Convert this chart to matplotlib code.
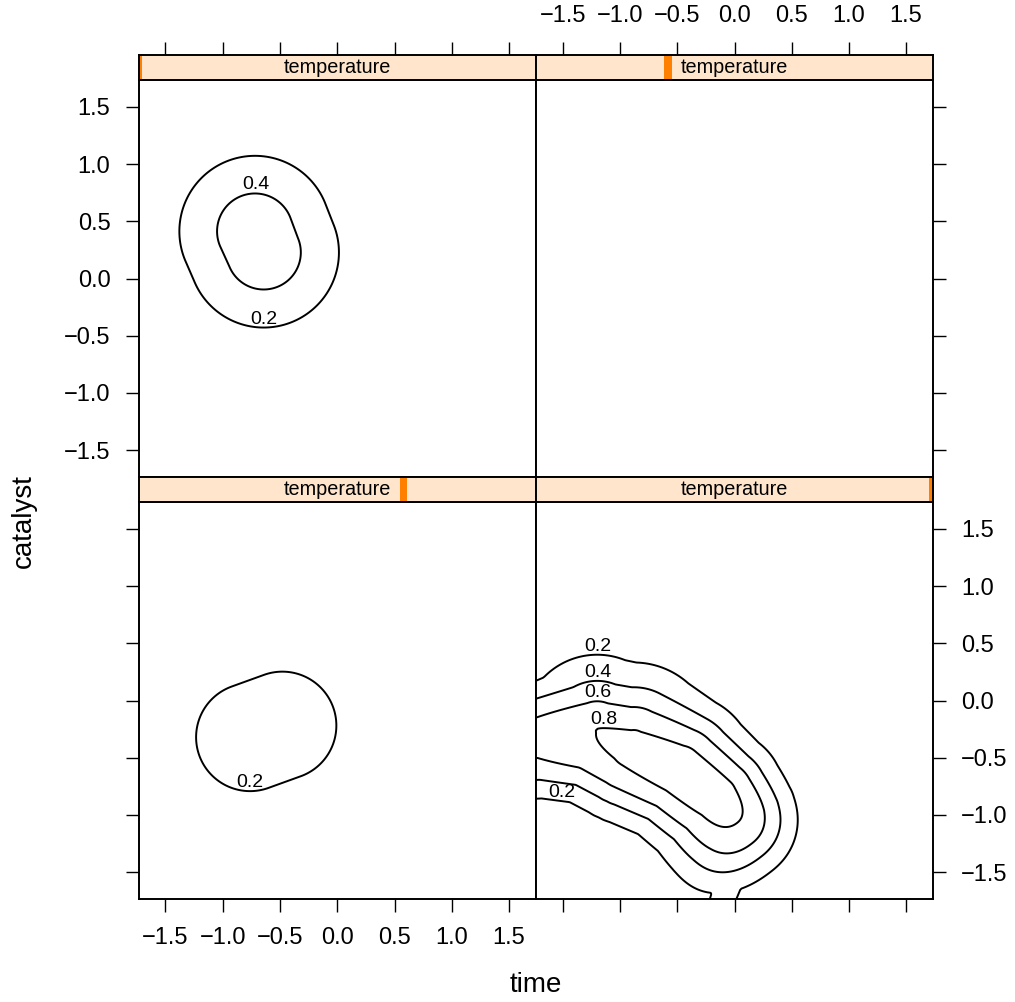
import numpy as np
import matplotlib
matplotlib.use("Agg")
import matplotlib.pyplot as plt
from matplotlib.patches import Rectangle

plt.rcParams['font.family'] = ['Liberation Sans', 'DejaVu Sans']

# axis ticks
ticks = [-1.5, -1.0, -0.5, 0.0, 0.5, 1.0, 1.5]
tick_labels = ["\u22121.5", "\u22121.0", "\u22120.5", "0.0", "0.5", "1.0", "1.5"]
lim = 1.735
levels = [0.2, 0.4, 0.6, 0.8]

# position of the temperature level in each strip (fraction of range)
temp_tl, temp_tr, temp_bl, temp_br = 0.0, 1 / 3, 2 / 3, 1.0

# fitted response per panel, described as ridges along a polyline:
# x, y of the crest, crest height, width above/below the crest
tl_x = [-0.718, -0.642]
tl_y = [0.412, 0.228]
tl_h = [0.505, 0.50]
tl_w = [0.686, 0.686]

tr_x = [-0.3, -0.1]
tr_y = [-0.2, -0.4]
tr_h = [0.12, 0.12]
tr_w = [0.6, 0.6]

bl_x = [-0.761, -0.479]
bl_y = [-0.321, -0.219]
bl_h = [0.30, 0.30]
bl_w = [0.74, 0.74]

br_x = [-2.0, -1.74, -1.2, -0.88, -0.48, -0.15, 0.05, 0.30, 0.55]
br_y = [-0.30, -0.30, -0.25, -0.38, -0.60, -0.85, -1.10, -1.45, -1.85]
br_h = [0.60, 0.66, 0.80, 0.85, 0.90, 0.90, 0.88, 0.86, 0.86]
br_wu = [0.42, 0.42, 0.53, 0.58, 0.55, 0.50, 0.48, 0.46, 0.46]
br_wl = [0.52, 0.52, 0.60, 0.62, 0.56, 0.58, 0.60, 0.62, 0.62]
br_pu = [2.2, 2.2, 1.6, 1.8, 2.2, 2.2, 2.2, 2.2, 2.2]
br_pl = [2.5, 2.5, 2.6, 2.6, 2.3, 2.2, 2.2, 2.2, 2.2]
# fall-off of the bottom-right ridge towards the lower right
br_cut_dir = (0.62, -0.79)
br_cut_at = 1.20
br_cut_scale = 0.15
# small shoulder running out of the bottom edge
spur_x = [0.02, -0.18]
spur_y = [-1.40, -1.95]
spur_h = [0.40, 0.30]
spur_w = [0.15, 0.15]


def lerp(a, i, t):
    return a[i] + t * (a[i + 1] - a[i])


def ridge(X, Y, px, py, h, wu, wl=None, pu=None, pl=None):
    n = len(px)
    wl = wu if wl is None else wl
    pu = [2.0] * n if pu is None else pu
    pl = [2.0] * n if pl is None else pl
    z = np.full(X.shape, -np.inf)
    for i in range(n - 1):
        dx = px[i + 1] - px[i]
        dy = py[i + 1] - py[i]
        t = np.clip(((X - px[i]) * dx + (Y - py[i]) * dy) / (dx * dx + dy * dy), 0, 1)
        ox = X - px[i] - t * dx
        oy = Y - py[i] - t * dy
        d = np.sqrt(ox ** 2 + oy ** 2)
        upper = (dx * oy - dy * ox) > 0
        w = np.where(upper, lerp(wu, i, t), lerp(wl, i, t))
        p = np.where(upper, lerp(pu, i, t), lerp(pl, i, t))
        z = np.maximum(z, lerp(h, i, t) * np.exp(-(d / w) ** p))
    return z


g = np.linspace(-lim, lim, 281)
X, Y = np.meshgrid(g, g)
Z_tl = ridge(X, Y, tl_x, tl_y, tl_h, tl_w)
Z_tr = ridge(X, Y, tr_x, tr_y, tr_h, tr_w)
Z_bl = ridge(X, Y, bl_x, bl_y, bl_h, bl_w)
q = br_cut_dir[0] * X + br_cut_dir[1] * Y
cut = 1 / (1 + np.exp((q - br_cut_at) / br_cut_scale))
Z_br = np.maximum(ridge(X, Y, br_x, br_y, br_h, br_wu, br_wl, br_pu, br_pl) * cut,
                  ridge(X, Y, spur_x, spur_y, spur_h, spur_w))

W, H = 1015, 1002
fig = plt.figure(figsize=(W / 100, H / 100), dpi=100)


def box(x0, x1, y0, y1):
    return [x0 / W, 1 - y1 / H, (x1 - x0) / W, (y1 - y0) / H]


cols = [(138.5, 536), (536, 933)]
rows = [((55, 80), (80, 477)), ((477, 502), (502, 899))]


def style_ticks(ax, side, labels):
    ax.tick_params(direction='out', length=9.4, width=1.0, pad=10.8,
                   labelsize=17)
    if side in ('top', 'bottom'):
        ax.set_xticks(ticks)
        ax.set_xticklabels(tick_labels if labels else [])
        ax.tick_params(axis='x', top=(side == 'top'), bottom=(side == 'bottom'),
                       labeltop=(side == 'top') and labels,
                       labelbottom=(side == 'bottom') and labels)
    else:
        ax.set_yticks(ticks)
        ax.set_yticklabels(tick_labels if labels else [])
        ax.tick_params(axis='y', left=(side == 'left'), right=(side == 'right'),
                       labelleft=(side == 'left') and labels,
                       labelright=(side == 'right') and labels)


def label_contours(ax, cs, prefs):
    # put the label on the flattest stretch of each contour line
    for lev, segs in zip(cs.levels, cs.allsegs):
        for seg in segs:
            if len(seg) < 3:
                continue
            mx = 0.5 * (seg[1:, 0] + seg[:-1, 0])
            my = 0.5 * (seg[1:, 1] + seg[:-1, 1])
            slope = np.abs(np.diff(seg[:, 1])) / (np.abs(np.diff(seg[:, 0])) + 1e-9)
            ok = (np.abs(mx) < lim - 0.15) & (np.abs(my) < lim - 0.1)
            if not ok.any():
                continue
            flat = ok & (slope < 0.08)
            if flat.any():
                idx = np.where(flat)[0]
                if prefs.get(round(lev, 1), 'high') == 'high':
                    j = idx[np.argmax(my[idx])]
                else:
                    j = idx[np.argmin(my[idx])]
            else:
                j = np.argmin(np.where(ok, slope, np.inf))
            ax.text(mx[j], my[j], f"{lev:.1f}", ha='center', va='bottom',
                    fontsize=14)


panels = [
    (0, 0, Z_tl, temp_tl, ('left', True), ('top', False), {0.2: 'low', 0.4: 'high'}),
    (0, 1, Z_tr, temp_tr, ('right', False), ('top', True), {}),
    (1, 0, Z_bl, temp_bl, ('left', False), ('bottom', True), {0.2: 'low'}),
    (1, 1, Z_br, temp_br, ('right', True), ('bottom', False), {}),
]

for r, c, Z, temp, yside, xside, prefs in panels:
    (sy0, sy1), (py0, py1) = rows[r]
    x0, x1 = cols[c]
    ax = fig.add_axes(box(x0, x1, py0, py1))
    ax.set_xlim(-lim, lim)
    ax.set_ylim(-lim, lim)
    for sp in ax.spines.values():
        sp.set_linewidth(1.4)
    cs = ax.contour(X, Y, Z, levels=levels, colors='k', linewidths=1.4)
    label_contours(ax, cs, prefs)
    style_ticks(ax, yside[0], yside[1])
    if xside[0] == 'bottom':
        style_ticks(ax, 'bottom', xside[1])
    else:
        ax.set_xticks([])

    # strip with the temperature level indicator
    sax = fig.add_axes(box(x0, x1, sy0, sy1))
    sax.set_facecolor('#ffe5cc')
    sax.set_xlim(-lim, lim)
    sax.set_ylim(0, 1)
    sax.set_yticks([])
    for sp in sax.spines.values():
        sp.set_linewidth(1.4)
    if xside[0] == 'top':
        style_ticks(sax, 'top', xside[1])
    else:
        sax.set_xticks([])
    sax.add_patch(Rectangle((temp - 0.01, 0), 0.02, 1, transform=sax.transAxes,
                            facecolor='#ff7f00', edgecolor='none', clip_on=True))
    sax.text(0.5, 0.5, 'temperature', transform=sax.transAxes, ha='center',
             va='center', fontsize=14.3)

fig.text(535.5 / W, 1 - 985 / H, 'time', ha='center', va='center', fontsize=20)
fig.text(24 / W, 1 - 521 / H, 'catalyst', ha='center', va='center',
         rotation=90, fontsize=20)

fig.savefig('out.png', dpi=100)
